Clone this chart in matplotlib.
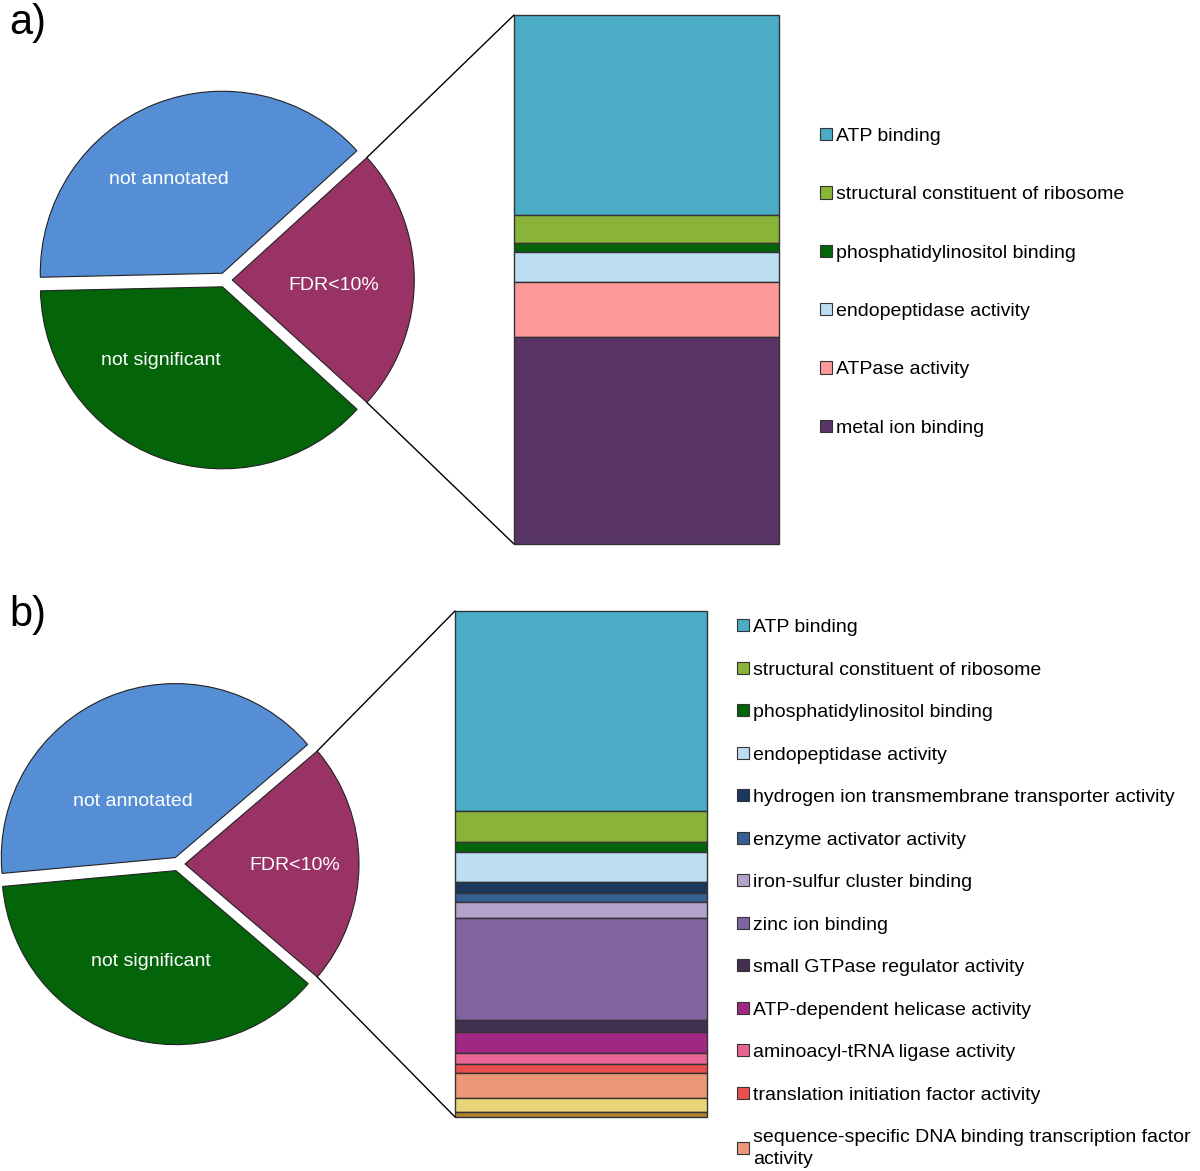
import matplotlib
matplotlib.use("Agg")
import matplotlib.pyplot as plt
from matplotlib.patches import Patch, ConnectionPatch
import numpy as np

plt.rcParams["font.family"] = ["Liberation Sans", "DejaVu Sans"]

W, H = 1200, 1171

# pie: share of genes
pie_labels = ["not annotated", "not significant", "FDR<10%"]
pie_colors = ["#558ED5", "#03640A", "#993366"]
pie_a = [38.6, 37.9, 23.5]
pie_b = [40.2, 37.3, 22.5]

# panel a bar (GO terms among FDR<10% genes)
terms_a = ["ATP binding", "structural constituent of ribosome",
           "phosphatidylinositol binding", "endopeptidase activity",
           "ATPase activity", "metal ion binding"]
colors_a = ["#4BACC6", "#8AB33A", "#04640A", "#BDDDF3", "#FE9999", "#593565"]
sizes_a = [200, 28, 9, 30, 55, 207]

# panel b bar (last two segments are not listed in the legend)
terms_b = ["ATP binding", "structural constituent of ribosome",
           "phosphatidylinositol binding", "endopeptidase activity",
           "hydrogen ion transmembrane transporter activity",
           "enzyme activator activity", "iron-sulfur cluster binding",
           "zinc ion binding", "small GTPase regulator activity",
           "ATP-dependent helicase activity", "aminoacyl-tRNA ligase activity",
           "translation initiation factor activity",
           "sequence-specific DNA binding transcription factor\nactivity",
           None, None]
colors_b = ["#4BACC6", "#8AB33A", "#04640A", "#BDDDF3", "#1C375E", "#385F91",
            "#B3A2CA", "#8064A2", "#41304F", "#A02884", "#EA6595", "#E85050",
            "#EC9878", "#E8D578", "#B0822E"]
sizes_b = [200, 31, 10, 30, 11, 9, 16, 102, 12, 21, 11, 9, 25, 14, 5]


def px_axes(fig, left, top, right, bottom):
    return fig.add_axes([left / W, 1 - bottom / H, (right - left) / W, (bottom - top) / H])


def draw_pie(fig, cx, cy, r, values, text_pos):
    pad = 1.3
    ax = px_axes(fig, cx - pad * r, cy - pad * r, cx + pad * r, cy + pad * r)
    fdr_share = values[2] / sum(values)
    wedges, _ = ax.pie(values, colors=pie_colors, explode=[0.04, 0.04, 0.04],
                       startangle=fdr_share * 180, counterclock=True,
                       wedgeprops=dict(edgecolor="#222222", linewidth=0.8))
    ax.set_xlim(-pad, pad)
    ax.set_ylim(-pad, pad)
    ax.axis("off")
    for lab, (tx, ty) in zip(pie_labels, text_pos):
        ax.text(tx, ty, lab, color="white", fontsize=14, ha="center", va="center")
    return ax, wedges[2]


def draw_bar(fig, box, sizes, colors):
    ax = px_axes(fig, *box)
    bottoms = np.concatenate([[0], np.cumsum(sizes)[:-1]])
    ax.bar(np.full(len(sizes), 0.5), sizes, width=1.0, bottom=bottoms, color=colors,
           edgecolor="#333333", linewidth=1.0, clip_on=False)
    ax.set_xlim(0, 1)
    ax.set_ylim(sum(sizes), 0)
    ax.axis("off")
    return ax


def connect(fig, pie_ax, wedge, bar_ax):
    cx, cy = wedge.center
    r = wedge.r
    for theta, corner in [(wedge.theta2, (0, 1)), (wedge.theta1, (0, 0))]:
        t = np.deg2rad(theta)
        con = ConnectionPatch(xyA=(cx + r * np.cos(t), cy + r * np.sin(t)), coordsA=pie_ax.transData,
                              xyB=corner, coordsB=bar_ax.transAxes,
                              color="black", linewidth=1.0)
        fig.add_artist(con)


def add_legend(fig, terms, colors, x, y, spacing):
    handles = [Patch(facecolor=c, edgecolor="#333333", linewidth=0.8, label=t)
               for t, c in zip(terms, colors) if t is not None]
    leg = fig.legend(handles=handles, loc="upper left", bbox_to_anchor=(x / W, 1 - y / H),
                     frameon=False, fontsize=14, handlelength=0.6, handleheight=0.6,
                     handletextpad=0.22, labelspacing=spacing, borderpad=0, borderaxespad=0)
    for t in leg.get_texts():
        t.set_linespacing(1.35)
    return leg


fig = plt.figure(figsize=(W / 100, H / 100), dpi=100)

# panel a
pie_ax_a, fdr_a = draw_pie(fig, 225, 280, 182, pie_a,
                           [(-0.31, 0.55), (-0.35, -0.445), (0.60, -0.03)])
bar_ax_a = draw_bar(fig, (514, 15, 779, 544), sizes_a, colors_a)
connect(fig, pie_ax_a, fdr_a, bar_ax_a)
add_legend(fig, terms_a, colors_a, 820, 128, 2.125)

# panel b
pie_ax_b, fdr_b = draw_pie(fig, 178, 864, 174, pie_b,
                           [(-0.26, 0.36), (-0.155, -0.56), (0.67, -0.01)])
bar_ax_b = draw_bar(fig, (455, 611, 707, 1117), sizes_b, colors_b)
connect(fig, pie_ax_b, fdr_b, bar_ax_b)
add_legend(fig, terms_b, colors_b, 737, 619, 1.31)

fig.text(9 / W, 1 - 23 / H, "a)", fontsize=30, va="center", ha="left")
fig.text(9 / W, 1 - 615 / H, "b)", fontsize=30, va="center", ha="left")

fig.savefig("out.png", dpi=100)
